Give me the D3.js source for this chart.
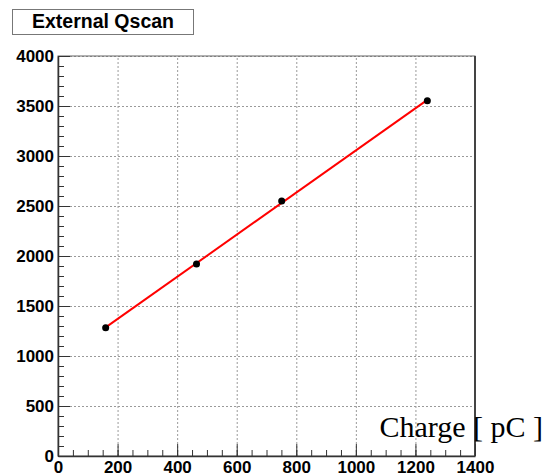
<html>
   <head>
      <meta charset="UTF-8">
      <title>External Qscan</title>
      <script src="https://d3js.org/d3.v7.min.js"></script>
      <style>
         body{
         margin: 0;
         background: #fff;
         }
         svg{
         display: block;
         }
         .tick text{
         font-family: "Liberation Sans", Arial, sans-serif;
         font-weight: bold;
         font-size: 17px;
         fill: #000;
         }
      </style>
   </head>
   <body>
      <svg width="545" height="476"></svg>
      <script type="text/javascript">
         // measured points (charge in pC vs. value)
         var charge = [160, 465, 751, 1240];
         var value = [1283, 1920, 2550, 3553];
         var xTicks = [0, 200, 400, 600, 800, 1000, 1200, 1400];
         var yTicks = [0, 500, 1000, 1500, 2000, 2500, 3000, 3500, 4000];
         var titleText = "External Qscan";
         var xTitle = "Charge [ pC ]";

         var margin = {top: 56, left: 58, right: 70, bottom: 20};
         var width = 545, height = 476;
         var graphwidth = width - margin.left - margin.right;
         var graphheight = height - margin.top - margin.bottom;

         var xScale = d3.scaleLinear().domain([0, 1400]).range([0, graphwidth]);
         var yScale = d3.scaleLinear().domain([0, 4000]).range([graphheight, 0]);

         var svg = d3.select("svg");
         var plot = svg.append("g")
            .attr("transform", "translate(" + margin.left + "," + margin.top + ")");

         // grid
         var gridX = plot.append("g")
            .attr("transform", "translate(0," + graphheight + ")")
            .call(d3.axisBottom(xScale).tickValues(xTicks).tickSize(-graphheight).tickFormat(""));
         var gridY = plot.append("g")
            .call(d3.axisLeft(yScale).tickValues(yTicks).tickSize(-graphwidth).tickFormat(""));
         [gridX, gridY].forEach(function(g){
            g.select(".domain").remove();
            g.selectAll("line").attr("stroke", "#9a9a9a").attr("stroke-dasharray", "2,2");
         });

         // frame
         plot.append("rect")
            .attr("x", 0).attr("y", 0)
            .attr("width", graphwidth).attr("height", graphheight)
            .attr("fill", "none").attr("stroke", "#666").attr("stroke-width", 1);
         plot.append("line")
            .attr("x1", graphwidth).attr("x2", graphwidth)
            .attr("y1", 0).attr("y2", graphheight)
            .attr("stroke", "#444").attr("stroke-width", 2);

         // minor ticks
         var xMinor = d3.range(0, 1401, 50);
         var yMinor = d3.range(0, 4001, 100);
         plot.append("g")
            .attr("transform", "translate(0," + graphheight + ")")
            .call(d3.axisBottom(xScale).tickValues(xMinor).tickSize(-6).tickSizeOuter(0).tickFormat(""))
            .call(function(g){ g.select(".domain").remove(); });
         plot.append("g")
            .call(d3.axisLeft(yScale).tickValues(yMinor).tickSize(-6).tickSizeOuter(0).tickFormat(""))
            .call(function(g){ g.select(".domain").remove(); });

         // major axes
         var xAxis = plot.append("g")
            .attr("transform", "translate(0," + graphheight + ")")
            .call(d3.axisBottom(xScale).tickValues(xTicks).tickSize(-12).tickSizeOuter(0).tickPadding(5).tickFormat(d3.format("d")));
         var yAxis = plot.append("g")
            .call(d3.axisLeft(yScale).tickValues(yTicks).tickSize(-12).tickSizeOuter(0).tickPadding(4).tickFormat(d3.format("d")));
         xAxis.selectAll("text").attr("dy", "0.72em");
         [xAxis, yAxis].forEach(function(g){
            g.select(".domain").attr("stroke", "#333").attr("stroke-width", 1.5);
         });
         plot.selectAll(".tick line").filter(function(){ return !this.getAttribute("stroke-dasharray"); })
            .attr("stroke", "#333");

         // linear fit (least squares)
         var mx = d3.mean(charge), my = d3.mean(value);
         var sxy = d3.sum(charge, function(d, i){ return (d - mx) * (value[i] - my); });
         var sxx = d3.sum(charge, function(d){ return (d - mx) * (d - mx); });
         var slope = sxy / sxx, icpt = my - slope * mx;
         var xr = d3.extent(charge);
         plot.append("path")
            .datum(xr)
            .attr("d", d3.line()
               .x(function(d){ return xScale(d); })
               .y(function(d){ return yScale(icpt + slope * d); }))
            .attr("fill", "none").attr("stroke", "#ff0000").attr("stroke-width", 2);

         // points
         plot.selectAll("circle")
            .data(charge)
            .enter()
            .append("circle")
            .attr("cx", function(d){ return xScale(d); })
            .attr("cy", function(d, i){ return yScale(value[i]); })
            .attr("r", 3.5)
            .attr("fill", "#000");

         // axis title
         svg.append("text")
            .attr("x", 543).attr("y", 437)
            .attr("text-anchor", "end")
            .style("font-family", "'Liberation Serif', 'Times New Roman', serif")
            .style("font-size", "30px")
            .text(xTitle);

         // title box
         svg.append("rect")
            .attr("x", 12.5).attr("y", 9.5)
            .attr("width", 181).attr("height", 25)
            .attr("fill", "#fff").attr("stroke", "#777").attr("stroke-width", 1);
         svg.append("text")
            .attr("x", 103).attr("y", 28)
            .attr("text-anchor", "middle")
            .style("font-family", "'Liberation Sans', Arial, sans-serif")
            .style("font-weight", "bold")
            .style("font-size", "19.5px")
            .text(titleText);
      </script>
   </body>
</html>
